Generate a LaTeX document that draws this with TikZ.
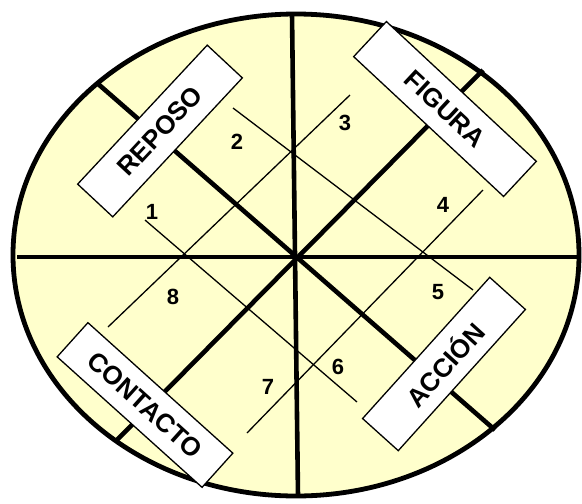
\documentclass[tikz,border=0pt]{standalone}
\usepackage{fontspec}
\setmainfont{Liberation Sans}
\definecolor{paleyellow}{RGB}{255,255,204}
\tikzset{
  ellip/.style={draw=black, line width=4.8pt, fill=paleyellow},
  thickline/.style={draw=black, line width=4.6pt},
  thinline/.style={draw=black, line width=1.3pt},
  lblbox/.style={draw=black, line width=1.3pt, fill=white, minimum height=48pt, inner sep=0pt,
    font=\fontsize{26}{26}\selectfont\bfseries},
  num/.style={inner sep=0pt, font=\fontsize{22}{22}\selectfont\bfseries}
}
\begin{document}
\begin{tikzpicture}[x=1pt,y=-1pt]
\useasboundingbox (0,0) rectangle (582,504);
% ellipse
\filldraw[ellip] (296,255) ellipse [x radius=283pt, y radius=241pt];
% coordinates
\coordinate (O) at (295,257);
\coordinate (top) at (292,14);
\coordinate (bot) at (298,496);
\coordinate (lft) at (17,257);
\coordinate (rgt) at (579,257);
\coordinate (ul) at (97,83);
\coordinate (lr) at (495,430);
\coordinate (ur) at (483,70);
\coordinate (ll) at (115,442);
% thin grid lines
\coordinate (a1) at (233,108); \coordinate (a2) at (473,290);
\coordinate (b1) at (145,220); \coordinate (b2) at (357,402);
\coordinate (c1) at (350,95);  \coordinate (c2) at (108,327);
\coordinate (d1) at (483,190); \coordinate (d2) at (247,433);
\draw[thinline] (a1) -- (a2);
\draw[thinline] (b1) -- (b2);
\draw[thinline] (c1) -- (c2);
\draw[thinline] (d1) -- (d2);
% thick lines
\draw[thickline] (top) -- (bot);
\draw[thickline] (lft) -- (rgt);
\draw[thickline] (ul) -- (lr);
\draw[thickline] (ur) -- (ll);
% labels
\node[lblbox, rotate=47, minimum width=190pt] (reposo) at (160,131) {REPOSO};
\node[lblbox, rotate=-43, minimum width=205pt] (figura) at (445,109) {FIGURA};
\node[lblbox, rotate=-42, minimum width=195pt, minimum height=46pt] (contacto) at (145,405) {CONTACTO};
\node[lblbox, rotate=48, minimum width=190pt] (accion) at (444,364) {ACCIÓN};
% numbers
\node[num] (n1) at (152,212) {1};
\node[num] (n2) at (237,142) {2};
\node[num] (n3) at (345,123) {3};
\node[num] (n4) at (443,205) {4};
\node[num] (n5) at (438,292) {5};
\node[num] (n6) at (338,367) {6};
\node[num] (n7) at (268,387) {7};
\node[num] (n8) at (173,297) {8};
\end{tikzpicture}
\end{document}
